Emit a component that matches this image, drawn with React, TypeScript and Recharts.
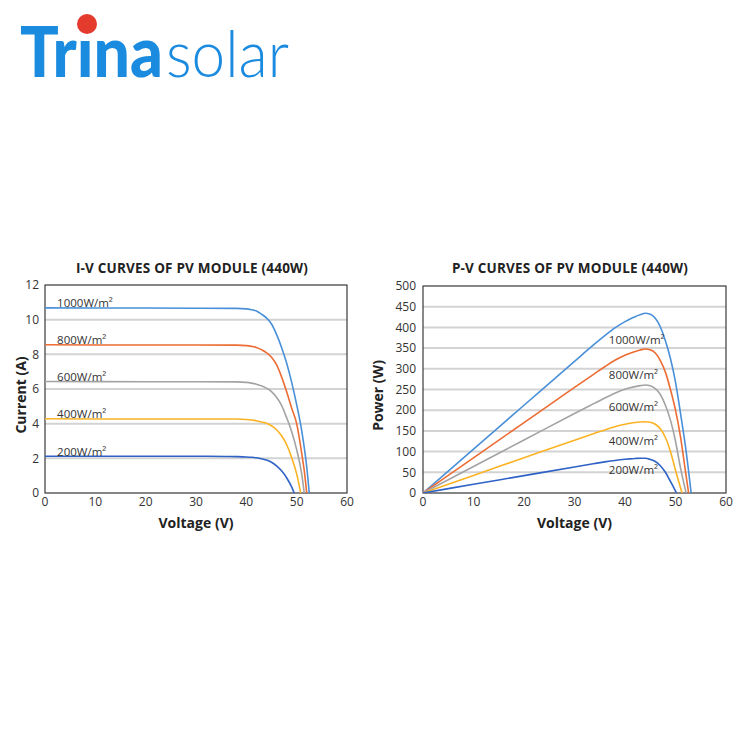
import React from "react";
import {
  CartesianGrid,
  Line,
  LineChart,
  ReferenceArea,
  ReferenceDot,
  XAxis,
  YAxis,
} from "recharts";

// irradiance levels, top curve first
const irradianceLabels = ["1000W/m²", "800W/m²", "600W/m²", "400W/m²", "200W/m²"];
const curveColors = ["#4a90d9", "#ec6c33", "#a3a3a3", "#fbb324", "#2f62c6"];

const voltageTicks = [0, 10, 20, 30, 40, 50, 60];
const currentTicks = [0, 2, 4, 6, 8, 10, 12];
const powerTicks = [0, 50, 100, 150, 200, 250, 300, 350, 400, 450, 500];

// I-V curves (V, A)
const iv1000V = [0, 20, 30, 38, 40, 41, 42, 43, 44, 45, 46, 47, 48, 49, 50, 51, 52, 52.5];
const iv1000I = [10.68, 10.67, 10.66, 10.65, 10.62, 10.57, 10.5, 10.32, 10.1, 9.75, 9.15, 8.4, 7.5, 6.4, 5.1, 3.6, 1.5, 0];
const iv800V = [0, 20, 30, 38, 40, 41, 42, 43, 44, 45, 46, 47, 48, 49, 50, 51, 51.5, 52];
const iv800I = [8.55, 8.54, 8.54, 8.53, 8.5, 8.46, 8.4, 8.27, 8.1, 7.83, 7.4, 6.7, 5.85, 4.9, 4.0, 2.3, 1.3, 0];
const iv600V = [0, 20, 30, 38, 40, 41, 42, 43, 44, 45, 46, 47, 48, 49, 50, 51, 51.5];
const iv600I = [6.43, 6.42, 6.42, 6.41, 6.38, 6.34, 6.28, 6.18, 6.05, 5.85, 5.52, 5.05, 4.35, 3.55, 2.5, 1.1, 0];
const iv400V = [0, 20, 30, 38, 40, 41, 42, 43, 44, 45, 46, 47, 48, 49, 50, 50.8];
const iv400I = [4.28, 4.27, 4.27, 4.27, 4.24, 4.21, 4.17, 4.1, 4.02, 3.88, 3.65, 3.3, 2.8, 2.05, 1.1, 0];
const iv200V = [0, 20, 30, 36, 38, 40, 41, 42, 43, 44, 45, 46, 47, 48, 49, 49.5];
const iv200I = [2.12, 2.12, 2.12, 2.11, 2.1, 2.08, 2.06, 2.03, 1.98, 1.9, 1.77, 1.57, 1.28, 0.88, 0.35, 0];

// P-V curves (V, W)
const pv1000V = [0, 10, 20, 30, 34, 36, 38, 40, 41, 42, 43, 44, 45, 46, 47, 48, 49, 50, 51, 52, 53.1];
const pv1000P = [0, 106, 212, 318, 360, 380, 399, 414, 420.5, 426, 430.5, 434, 432, 422, 401, 368, 325, 268, 192, 110, 0];
const pv800V = [0, 10, 20, 30, 34, 36, 38, 40, 41, 42, 43, 44, 45, 46, 47, 48, 49, 50, 51, 52, 52.6];
const pv800P = [0, 85, 170, 255, 288.5, 305, 320.5, 332.5, 337.5, 342, 345.5, 348, 346, 338, 320, 292, 250, 200, 135, 50, 0];
const pv600V = [0, 10, 20, 30, 34, 36, 38, 40, 41, 42, 43, 44, 45, 46, 47, 48, 49, 50, 51, 52.1];
const pv600P = [0, 64, 128, 192, 217, 229.5, 241, 250.5, 254, 257, 259.3, 261, 259, 252, 238, 212, 176, 125, 60, 0];
const pv400V = [0, 10, 20, 30, 34, 36, 38, 40, 41, 42, 43, 44, 45, 46, 47, 48, 49, 50, 51.3];
const pv400P = [0, 42.5, 85, 127.5, 144.2, 152.4, 160, 166, 168.3, 170.2, 171.4, 172, 171, 166, 155, 134, 100, 55, 0];
const pv200V = [0, 10, 20, 30, 34, 36, 38, 40, 41, 42, 43, 44, 45, 46, 47, 48, 49, 50.2];
const pv200P = [0, 21, 42, 63, 71.2, 75.1, 78.6, 81.4, 82.5, 83.4, 84, 83.8, 81, 76, 66, 50, 28, 0];

// where the P-V labels sit (W), label column at 36.8 V
const pvLabelPower = [371, 286, 209, 127, 56];

type Pt = { v: number; y: number };
const toPoints = (v: number[], y: number[]): Pt[] => v.map((x, i) => ({ v: x, y: y[i] }));

const ivCurves = [
  toPoints(iv1000V, iv1000I),
  toPoints(iv800V, iv800I),
  toPoints(iv600V, iv600I),
  toPoints(iv400V, iv400I),
  toPoints(iv200V, iv200I),
];
const pvCurves = [
  toPoints(pv1000V, pv1000P),
  toPoints(pv800V, pv800P),
  toPoints(pv600V, pv600P),
  toPoints(pv400V, pv400P),
  toPoints(pv200V, pv200P),
];

const FONT = "'Open Sans', 'DejaVu Sans', sans-serif";
const tickStyle = { fill: "#333", fontSize: 12 };

function xTitle(value: string) {
  return (p: any) => {
    const { x, y, width } = p.viewBox;
    return (
      <text x={x + width / 2} y={y + 29} textAnchor="middle" dominantBaseline="central"
        fontSize={14} fontWeight={700} fill="#222">
        {value}
      </text>
    );
  };
}

function yTitle(value: string, gap: number) {
  return (p: any) => {
    const { x, y, width, height } = p.viewBox;
    const cx = x + width - gap;
    const cy = y + height / 2 + 6;
    return (
      <text x={cx} y={cy} transform={`rotate(-90 ${cx} ${cy})`} textAnchor="middle"
        dominantBaseline="central" fontSize={14} fontWeight={700} fill="#222">
        {value}
      </text>
    );
  };
}

function curveLabel(text: string, lift: number) {
  return (p: any) => (
    <text x={p.viewBox.x} y={p.viewBox.y - lift} dominantBaseline="central" fontSize={11.5} fill="#333">
      {text}
    </text>
  );
}

function ChartTitle({ text, center }: { text: string; center: number }) {
  return (
    <div style={{ position: "absolute", left: center - 160, top: 260, width: 320, textAlign: "center",
      fontSize: 13.5, lineHeight: "16px", fontWeight: 700, color: "#222", letterSpacing: 0.2 }}>
      {text}
    </div>
  );
}

function IVChart() {
  return (
    <div style={{ position: "absolute", left: 0, top: 275 }}>
      <LineChart width={360} height={265} margin={{ top: 10, right: 13, bottom: 0, left: 0 }}>
        <CartesianGrid vertical={false} stroke="#d3d3d3" strokeWidth={2} />
        <XAxis dataKey="v" type="number" domain={[0, 60]} ticks={voltageTicks} allowDataOverflow interval={0}
          height={47} tickLine={false} axisLine={false} tickSize={2} tickMargin={2} tick={tickStyle}
          label={xTitle("Voltage (V)")} />
        <YAxis dataKey="y" type="number" domain={[0, 12]} ticks={currentTicks} allowDataOverflow interval={0}
          width={45} tickLine={false} axisLine={false} tickSize={4} tickMargin={2} tick={tickStyle}
          label={yTitle("Current (A)", 25)} />
        <ReferenceArea x1={0} x2={60} y1={0} y2={12} fill="none" fillOpacity={0} stroke="#3a3a3a" strokeWidth={1.2} />
        {ivCurves.map((pts, i) => (
          <Line key={i} data={pts} dataKey="y" type="monotone" stroke={curveColors[i]} strokeWidth={1.6}
            dot={false} isAnimationActive={false} />
        ))}
        {ivCurves.map((pts, i) => (
          <ReferenceDot key={"l" + i} x={2.4} y={pts[0].y} r={0} fill="none" stroke="none"
            label={curveLabel(irradianceLabels[i], 5)} />
        ))}
      </LineChart>
    </div>
  );
}

function PVChart() {
  return (
    <div style={{ position: "absolute", left: 360, top: 276 }}>
      <LineChart width={373} height={265} margin={{ top: 10, right: 7, bottom: 0, left: 10 }}>
        <CartesianGrid vertical={false} stroke="#d3d3d3" strokeWidth={2} />
        <XAxis dataKey="v" type="number" domain={[0, 60]} ticks={voltageTicks} allowDataOverflow interval={0}
          height={48} tickLine={false} axisLine={false} tickSize={2} tickMargin={2} tick={tickStyle}
          label={xTitle("Voltage (V)")} />
        <YAxis dataKey="y" type="number" domain={[0, 500]} ticks={powerTicks} allowDataOverflow interval={0}
          width={53} tickLine={false} axisLine={false} tickSize={5} tickMargin={2} tick={tickStyle}
          label={yTitle("Power (W)", 45.5)} />
        <ReferenceArea x1={0} x2={60} y1={0} y2={500} fill="none" fillOpacity={0} stroke="#3a3a3a" strokeWidth={1.2} />
        {pvCurves.map((pts, i) => (
          <Line key={i} data={pts} dataKey="y" type="monotone" stroke={curveColors[i]} strokeWidth={1.6}
            dot={false} isAnimationActive={false} />
        ))}
        {pvLabelPower.map((w, i) => (
          <ReferenceDot key={"l" + i} x={36.8} y={w} r={0} fill="none" stroke="none"
            label={curveLabel(irradianceLabels[i], 0)} />
        ))}
      </LineChart>
    </div>
  );
}

function Logo() {
  return (
    <svg width={310} height={100} style={{ position: "absolute", left: 0, top: 0 }}>
      <text x={20} y={77} fontFamily="Lato, sans-serif" fontWeight={900} fontSize={70} fill="#1b8be0"
        textLength={143} lengthAdjust="spacingAndGlyphs">
        Trına
      </text>
      <text x={166} y={77} fontFamily="Lato, sans-serif" fontWeight={300} fontSize={66} fill="#1b8be0"
        textLength={123} lengthAdjust="spacingAndGlyphs">
        solar
      </text>
      <circle cx={87} cy={24} r={10} fill="#e53a2e" />
    </svg>
  );
}

export default function App() {
  return (
    <div style={{ position: "absolute", left: 0, top: 0, width: 750, height: 750, background: "#fff",
      fontFamily: FONT, overflow: "hidden" }}>
      <Logo />
      <ChartTitle text="I-V CURVES OF PV MODULE (440W)" center={192} />
      <ChartTitle text="P-V CURVES OF PV MODULE (440W)" center={570} />
      <IVChart />
      <PVChart />
    </div>
  );
}
